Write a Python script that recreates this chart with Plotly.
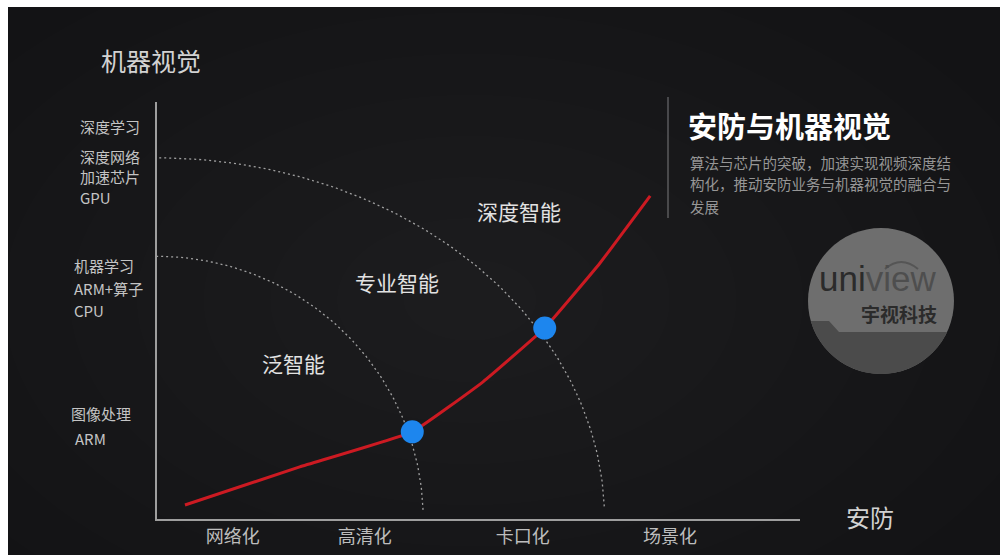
import numpy as np
import plotly.graph_objects as go

W, H = 1006, 555
FONT = "Noto Sans CJK SC, Noto Sans, sans-serif"

# ---------------- data ----------------
x_categories = ["网络化", "高清化", "卡口化", "场景化"]
x_category_pos = [11.8, 32.3, 56.9, 79.8]

y_label_lines = ["深度学习", "深度网络", "加速芯片", "GPU",
                 "机器学习", "ARM+算子", "CPU", "图像处理", "ARM"]
y_label_pos = [94.2, 87.0, 82.2, 77.2, 60.7, 55.2, 50.1, 25.2, 19.4]

curve_x = [4.35, 22.2, 39.7, 50.7, 60.3, 68.9, 76.7]
curve_y = [3.36, 12.5, 20.9, 32.9, 45.8, 61.4, 77.5]

milestone_x = [39.7, 60.3]
milestone_y = [20.9, 45.8]

arc_rx = [41.4, 69.6]
arc_ry = [63.0, 86.6]

region_names = ["泛智能", "专业智能", "深度智能"]
region_x = [21.2, 37.3, 56.3]
region_y = [37.4, 56.8, 73.9]

title_y_axis = "机器视觉"
title_x_axis = "安防"
panel_title = "安防与机器视觉"
panel_lines = ["算法与芯片的突破，加速实现视频深度结",
               "构化，推动安防业务与机器视觉的融合与",
               "发展"]

# ---------------- layout helpers ----------------
def PX(x):
    return x / W


def PY(y):
    return 1 - y / H


y_label_left_px = [78, 78, 78, 78, 72, 72, 72, 69, 73]

fig = go.Figure()

# dotted arcs
theta = np.radians(np.linspace(2, 90, 120))
for rx, ry in zip(arc_rx, arc_ry):
    fig.add_trace(go.Scatter(
        x=rx * np.cos(theta), y=ry * np.sin(theta), mode="lines",
        line=dict(color="rgba(205,205,205,0.75)", width=1.3, dash="2px,3px"),
        hoverinfo="skip", showlegend=False))

# red curve
fig.add_trace(go.Scatter(
    x=curve_x, y=curve_y, mode="lines",
    line=dict(color="#cc1a22", width=3, shape="spline", smoothing=0.3),
    showlegend=False))

# milestones
fig.add_trace(go.Scatter(
    x=milestone_x, y=milestone_y, mode="markers",
    marker=dict(color="#1d86ee", size=23, line=dict(width=0)),
    showlegend=False))

shapes = []
# dark canvas
shapes.append(dict(type="rect", xref="paper", yref="paper",
                   x0=PX(8), x1=PX(1000), y0=PY(555), y1=PY(7),
                   fillcolor="#131315", line=dict(width=0), layer="below"))
# soft radial glow
cx, cy = 470, 300
for i in range(9):
    f = 1 - i / 9
    rx, ry = 600 * f, 370 * f
    shapes.append(dict(type="circle", xref="paper", yref="paper",
                       x0=PX(cx - rx), x1=PX(cx + rx),
                       y0=PY(cy + ry), y1=PY(cy - ry),
                       fillcolor="rgba(255,255,255,0.009)",
                       line=dict(width=0), layer="below"))
# divider in right panel
shapes.append(dict(type="line", xref="paper", yref="paper",
                   x0=PX(668), x1=PX(668), y0=PY(218), y1=PY(97),
                   line=dict(color="#5a5a5c", width=1.5)))
# logo circle
lcx, lcy, lr = 881, 301, 73
shapes.append(dict(type="circle", xref="paper", yref="paper",
                   x0=PX(lcx - lr), x1=PX(lcx + lr),
                   y0=PY(lcy + lr), y1=PY(lcy - lr),
                   fillcolor="#6e6e6e", line=dict(width=0)))
# darker lower part of logo
pts = []
a_r = np.arcsin((332 - lcy) / lr)
a_l = np.pi - np.arcsin((321 - lcy) / lr)
for a in np.linspace(a_r, a_l, 60):
    pts.append((lcx + lr * np.cos(a), lcy + lr * np.sin(a)))
path = "M %f,%f " % (PX(pts[0][0]), PY(pts[0][1]))
for (x, y) in pts[1:]:
    path += "L %f,%f " % (PX(x), PY(y))
path += "L %f,%f L %f,%f Z" % (PX(829), PY(321), PX(839), PY(332))
shapes.append(dict(type="path", xref="paper", yref="paper", path=path,
                   fillcolor="#4b4b4b", line=dict(width=0)))
# small arc above "vi"
shapes.append(dict(type="path", xref="paper", yref="paper",
                   path="M %f,%f Q %f,%f %f,%f" % (PX(885), PY(269), PX(901), PY(255), PX(918), PY(269)),
                   line=dict(color="#555555", width=2)))

annotations = []
# y labels
for txt, yv, lx in zip(y_label_lines, y_label_pos, y_label_left_px):
    annotations.append(dict(text=txt, xref="paper", yref="y", x=PX(lx), y=yv,
                            xanchor="left", yanchor="middle", showarrow=False,
                            font=dict(family=FONT, size=15, color="#c4c4c4")))
# region labels
for txt, xv, yv in zip(region_names, region_x, region_y):
    annotations.append(dict(text=txt, xref="x", yref="y", x=xv, y=yv,
                            xanchor="center", yanchor="middle", showarrow=False,
                            font=dict(family=FONT, size=21, color="#e2e2e2")))
# axis titles
annotations.append(dict(text=title_y_axis, xref="paper", yref="paper",
                        x=PX(151), y=PY(60), xanchor="center", yanchor="middle",
                        showarrow=False, font=dict(family=FONT, size=25, color="#d2d2d2")))
annotations.append(dict(text=title_x_axis, xref="paper", yref="paper",
                        x=PX(870), y=PY(516), xanchor="center", yanchor="middle",
                        showarrow=False, font=dict(family=FONT, size=24, color="#d2d2d2")))
# right panel
annotations.append(dict(text="<b>%s</b>" % panel_title, xref="paper", yref="paper",
                        x=PX(686), y=PY(125), xanchor="left", yanchor="middle",
                        showarrow=False, font=dict(family=FONT, size=29, color="#ffffff")))
for txt, py in zip(panel_lines, [162, 184, 206]):
    annotations.append(dict(text=txt, xref="paper", yref="paper",
                            x=PX(688), y=PY(py), xanchor="left", yanchor="middle",
                            showarrow=False, font=dict(family=FONT, size=14.5, color="#969696")))
# logo text
annotations.append(dict(text="<span style='color:#2b2b2b'>uni</span>view",
                        xref="paper", yref="paper", x=PX(877), y=PY(278),
                        xanchor="center", yanchor="middle", showarrow=False,
                        font=dict(family="Liberation Sans, Arial, sans-serif", size=35, color="#4e4e4e")))
annotations.append(dict(text="<b>宇视科技</b>", xref="paper", yref="paper",
                        x=PX(899), y=PY(313), xanchor="center", yanchor="middle",
                        showarrow=False, font=dict(family=FONT, size=19, color="#2b2b2b")))

fig.update_layout(
    width=W, height=H,
    margin=dict(l=0, r=0, t=0, b=0),
    paper_bgcolor="#ffffff",
    plot_bgcolor="rgba(0,0,0,0)",
    shapes=shapes,
    annotations=annotations,
    showlegend=False,
    xaxis=dict(domain=[PX(157), PX(800)], range=[0, 100], showgrid=False,
               zeroline=False, showline=True, linecolor="#9e9e9e", linewidth=2,
               tickvals=x_category_pos, ticktext=x_categories, ticks="",
               ticklabelstandoff=0,
               tickfont=dict(family=FONT, size=18, color="#bdbdbd"), fixedrange=True),
    yaxis=dict(domain=[PY(519), PY(102)], range=[0, 100], showgrid=False,
               zeroline=False, showline=True, linecolor="#9e9e9e", linewidth=2,
               showticklabels=False, ticks="", fixedrange=True),
)

fig.write_html("out.html")
